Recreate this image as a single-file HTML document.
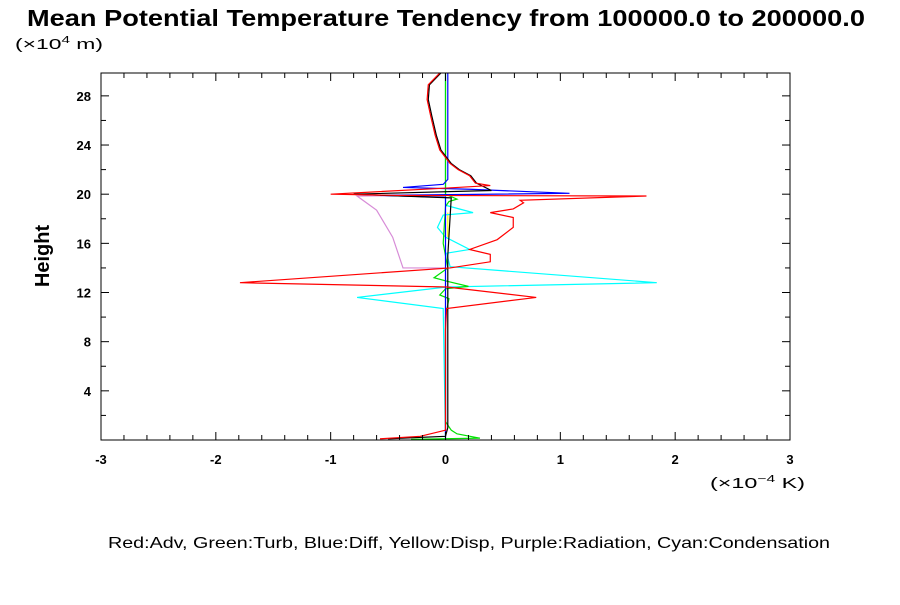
<!DOCTYPE html>
<html><head><meta charset="utf-8"><style>
body{margin:0;background:#fff;width:900px;height:600px;overflow:hidden}
svg text{font-family:"Liberation Sans",sans-serif}
</style></head><body>
<svg id="c" width="900" height="600">
<text x="27" y="26" font-size="23" font-weight="bold" textLength="838" lengthAdjust="spacingAndGlyphs">Mean Potential Temperature Tendency from 100000.0 to 200000.0</text>
<text x="15" y="49" font-size="15" textLength="88" lengthAdjust="spacingAndGlyphs">(×10<tspan font-size="10" dy="-6">4</tspan><tspan dy="6"> m)</tspan></text>
<text transform="translate(49,256) rotate(-90)" text-anchor="middle" font-size="20" font-weight="bold">Height</text>
<text x="710" y="488" font-size="15" textLength="95" lengthAdjust="spacingAndGlyphs">(×10<tspan font-size="10" dy="-6">−4</tspan><tspan dy="6"> K)</tspan></text>
<text x="108" y="548" font-size="16" textLength="722" lengthAdjust="spacingAndGlyphs">Red:Adv, Green:Turb, Blue:Diff, Yellow:Disp, Purple:Radiation, Cyan:Condensation</text>
<g id="plot"></g>
</svg>
<script>
const xTicks=[-3,-2,-1,0,1,2,3];
const yTicks=[4,8,12,16,20,24,28];
const redX=[-0.05,-0.15,-0.16,-0.13,-0.09,-0.05,0.04,0.11,0.21,0.26,0.39,0.01,-1.0,-0.4,1.75,0.65,0.68,0.59,0.39,0.59,0.59,0.45,0.21,0.39,0.39,0.04,-1.79,0.01,0.79,0.01,0.0,0.0,-0.22,-0.57];
const redY=[29.86,28.9,27.7,26.4,24.8,23.6,22.5,22.0,21.5,20.9,20.7,20.5,20.0,19.9,19.85,19.5,19.3,18.8,18.5,18.1,17.3,16.3,15.5,15.1,14.5,14.0,12.8,12.45,11.6,10.7,9.0,0.8,0.3,0.1];
const blackX=[-0.04,-0.14,-0.15,-0.12,-0.08,-0.04,0.05,0.12,0.22,0.27,0.4,-0.8,0.05,0.02,0.02,0.02,0.0,-0.5];
const blackY=[29.86,28.9,27.7,26.4,24.8,23.6,22.5,22.0,21.5,20.9,20.3,20.0,19.7,15.0,10.0,1.0,0.3,0.1];
const cyanX=[0,0,0.24,-0.02,-0.07,0,0.21,0.01,0.04,1.84,0.01,-0.77,-0.02,0];
const cyanY=[29.86,19.1,18.5,18.3,17.3,16.5,15.5,15.2,14.1,12.8,12.45,11.6,10.7,0.1];
const blueX=[0.02,0.02,-0.02,-0.37,0.21,1.08,-0.57,0,0];
const blueY=[29.86,21.2,20.8,20.55,20.4,20.07,19.9,19.75,0.1];
const purpleX=[0,0,-0.37,-0.46,-0.6,-0.77,-0.2,0,0];
const purpleY=[0.1,14.0,14.0,16.5,18.7,19.85,19.9,19.95,29.86];
const greenX=[0,0,0.1,0.03,0,-0.02,0.02,-0.1,0.02,0.2,0,-0.05,0.03,0,0,0.05,0.1,0.3,-0.3];
const greenY=[29.8,20,19.6,19.4,19,16,14,13.2,12.9,12.5,12.3,11.8,11.5,10,1.5,0.8,0.5,0.15,0.05];
const yellowX=[0.02,0.02];
const yellowY=[18.5,16.5];
const L=101,R=790,T=73,B=440,xmin=-3,xmax=3,ymin=0,ymax=29.86;
const sx=v=>L+(v-xmin)/(xmax-xmin)*(R-L);
const sy=v=>B-(v-ymin)/(ymax-ymin)*(B-T);
const g=document.getElementById('plot');
const NS='http://www.w3.org/2000/svg';
function mk(t,a){const e=document.createElementNS(NS,t);for(const k in a)e.setAttribute(k,a[k]);g.appendChild(e);return e;}
function line(xs,ys,color,name,dash){
 const e=mk('polyline',{points:xs.map((x,i)=>sx(x)+','+sy(ys[i])).join(' '),fill:'none',stroke:color,'stroke-width':1.2});
 if(dash)e.setAttribute('stroke-dasharray',dash);
 
 
}
line(purpleX,purpleY,'#d78cd7','radiation-line');
line(yellowX,yellowY,'#ffff00','disp-line');
line(cyanX,cyanY,'#00ffff','condensation-line');
line(greenX,greenY,'#00e000','turb-line');
line(blueX,blueY,'#0000ff','diff-line');
line(blackX,blackY,'#000000','total-line');
line(redX,redY,'#ff0000','adv-line');
const fr=mk('rect',{x:L,y:T,width:R-L,height:B-T,fill:'none',stroke:'#000','stroke-width':1});


for(let v=-3;v<=3.001;v+=0.2){const x=sx(v);const maj=Math.abs(v*2-Math.round(v*2))<0.01;const l=maj?8:5;
 mk('line',{x1:x,x2:x,y1:B,y2:B-l,stroke:'#000'});mk('line',{x1:x,x2:x,y1:T,y2:T+l,stroke:'#000'});}
for(let v=2;v<=28;v+=2){const y=sy(v);const l=(v%4==0)?8:5;
 mk('line',{x1:L,x2:L+l,y1:y,y2:y,stroke:'#000'});mk('line',{x1:R,x2:R-l,y1:y,y2:y,stroke:'#000'});}
xTicks.forEach(v=>{const t=mk('text',{x:sx(v),y:B+24,'text-anchor':'middle','font-size':13,'font-weight':'bold'});t.textContent=v;
 
 });
yTicks.forEach(v=>{const t=mk('text',{x:L-10,y:sy(v)+5,'text-anchor':'end','font-size':13,'font-weight':'bold'});t.textContent=v;
 
 });
</script>
</body></html>
